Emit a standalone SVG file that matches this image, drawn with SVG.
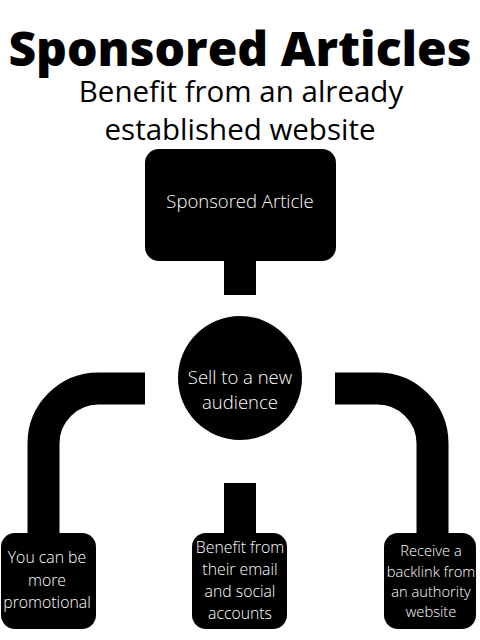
<svg xmlns="http://www.w3.org/2000/svg" width="480" height="640" viewBox="0 0 480 640">
<style>
.title{font-family:"Open Sans","Liberation Sans",sans-serif;font-weight:800;font-size:48px;fill:#000;text-anchor:middle}
.sub{font-family:"Open Sans","Liberation Sans",sans-serif;font-size:29.5px;fill:#000;text-anchor:middle}
.lbl{font-family:"Open Sans","Liberation Sans",sans-serif;font-weight:300;font-size:18.5px;fill:#fff;text-anchor:middle}
.sm{font-family:"Open Sans","Liberation Sans",sans-serif;font-weight:300;font-size:15.8px;fill:#fff;text-anchor:middle}
.xs{font-family:"Open Sans","Liberation Sans",sans-serif;font-weight:300;font-size:14.7px;fill:#fff;text-anchor:middle}
.conn{fill:none;stroke:#000;stroke-width:32}
</style>
<rect width="480" height="640" fill="#fff"/>
<text class="title" x="240" y="66">Sponsored Articles</text>
<text class="sub" x="241" y="102">Benefit from an already</text>
<text class="sub" x="240" y="140">established website</text>
<g id="connectors">
<path class="conn" d="M240 260 V295"/>
<path class="conn" d="M145 388.5 H98.5 A55 55 0 0 0 43.5 443.5 V540"/>
<path class="conn" d="M335 388.5 H377.5 A55 55 0 0 1 432.5 443.5 V540"/>
<path class="conn" d="M240 483 V540"/>
</g>
<g id="sponsored-article">
<rect x="145" y="149" width="191" height="112" rx="14" fill="#000"/>
<text class="lbl" x="240" y="208">Sponsored Article</text>
</g>
<g id="sell">
<circle cx="240" cy="378" r="62" fill="#000"/>
<text class="lbl" x="240" y="384">Sell to a new</text>
<text class="lbl" x="240" y="409">audience</text>
</g>
<g id="promotional">
<rect x="1" y="533" width="95" height="96" rx="14" fill="#000"/>
<text class="sm" x="47" y="563">You can be</text>
<text class="sm" x="47" y="586">more</text>
<text class="sm" x="47" y="608">promotional</text>
</g>
<g id="email-social">
<rect x="192" y="533" width="95" height="96" rx="14" fill="#000"/>
<text class="sm" x="240" y="553">Benefit from</text>
<text class="sm" x="240" y="575">their email</text>
<text class="sm" x="240" y="597">and social</text>
<text class="sm" x="240" y="619">accounts</text>
</g>
<g id="backlink">
<rect x="384" y="533" width="92" height="96" rx="14" fill="#000"/>
<text class="xs" x="431" y="556">Receive a</text>
<text class="xs" x="431" y="577">backlink from</text>
<text class="xs" x="431" y="597">an authority</text>
<text class="xs" x="431" y="617">website</text>
</g>
</svg>
